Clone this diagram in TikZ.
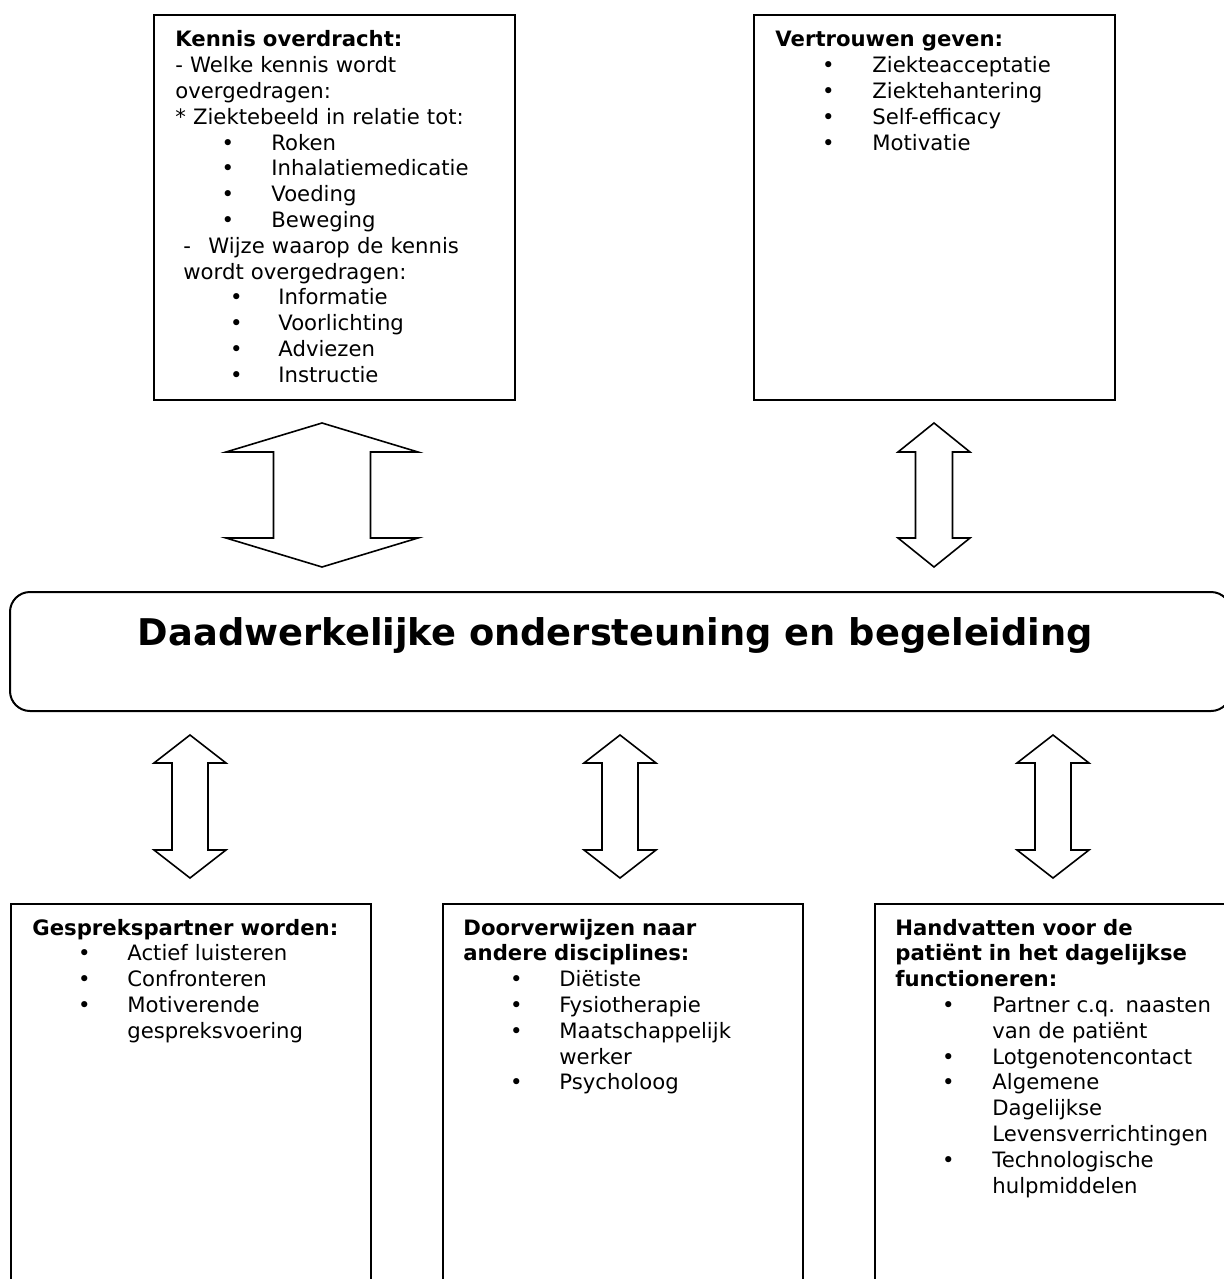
\documentclass[tikz,border=0pt]{standalone}
\usepackage{fontspec}
\setmainfont{DejaVu Sans}
\usetikzlibrary{positioning}

% bullet line: #1 = bullet centre, #2 = text start (both from the left margin)
\newcommand{\opsom}[3]{\hspace*{\dimexpr#1-0.295em\relax}\makebox[\dimexpr#2-#1+0.295em\relax][l]{\textbullet}#3}
% block arrow pointing both ways: centre x, top, bottom, half shaft, half head, head length
\newcommand{\dubbelpijl}[6]{%
  \draw[pijl] (#1,#2) -- ({#1+#5},{#2+#6}) -- ({#1+#4},{#2+#6}) -- ({#1+#4},{#3-#6})
    -- ({#1+#5},{#3-#6}) -- (#1,#3) -- ({#1-#5},{#3-#6}) -- ({#1-#4},{#3-#6})
    -- ({#1-#4},{#2+#6}) -- ({#1-#5},{#2+#6}) -- cycle;%
}

\tikzset{
  kader/.style={draw, line width=1pt, inner sep=0pt, anchor=north west},
  tekst/.style={anchor=base west, inner sep=0pt, text width=190pt, align=left,
    font=\fontsize{10.6}{12.9}\selectfont},
  titel/.style={anchor=base, inner sep=0pt, font=\bfseries\fontsize{18.4}{22}\selectfont},
  pijl/.style={draw, line width=0.8pt, line join=miter},
}

\begin{document}
\begin{tikzpicture}[x=0.5pt, y=-0.5pt]
  \clip (0,0) rectangle (1224,1279);

  % top row
  \node[kader, minimum width=180.5pt, minimum height=192.5pt] (kennis) at (153,14) {};
  \node[kader, minimum width=180.5pt, minimum height=192.5pt] (vertrouwen) at (753,14) {};

  \node[tekst] (kennistekst) at (175,47) {%
    \textbf{Kennis overdracht:}\\
    - Welke kennis wordt\\
    overgedragen:\\
    {}* Ziektebeeld in relatie tot:\\
    \opsom{26.25pt}{48pt}{Roken}\\
    \opsom{26.25pt}{48pt}{Inhalatiemedicatie}\\
    \opsom{26.25pt}{48pt}{Voeding}\\
    \opsom{26.25pt}{48pt}{Beweging}\\
    \hspace*{4pt}\makebox[12.5pt][l]{-}Wijze waarop de kennis\\
    \hspace*{4pt}wordt overgedragen:\\
    \opsom{30.5pt}{51.5pt}{Informatie}\\
    \opsom{30.5pt}{51.5pt}{Voorlichting}\\
    \opsom{30.5pt}{51.5pt}{Adviezen}\\
    \opsom{30.5pt}{51.5pt}{Instructie}};

  \node[tekst] (vertrouwentekst) at (775,47) {%
    \textbf{Vertrouwen geven:}\\
    \opsom{26.5pt}{48.5pt}{Ziekteacceptatie}\\
    \opsom{26.5pt}{48.5pt}{Ziektehantering}\\
    \opsom{26.5pt}{48.5pt}{Self-efficacy}\\
    \opsom{26.5pt}{48.5pt}{Motivatie}};

  % arrows to the middle
  \dubbelpijl{322}{423}{567}{48.5}{96}{29}
  \dubbelpijl{934}{423}{567}{18.5}{36}{29}

  % middle
  \node[kader, rounded corners=10pt, minimum width=610.5pt, minimum height=59.5pt] (kern) at (9,591) {};
  \node[titel] (titel) at (615.5,645) {Daadwerkelijke ondersteuning en begeleiding};

  \foreach \x in {190,620,1053} {\dubbelpijl{\x}{735}{878}{18}{36}{28}}

  % bottom row
  \node[kader, minimum width=180pt, minimum height=200pt] (gesprek) at (10,903) {};
  \node[kader, minimum width=180pt, minimum height=200pt] (doorverwijzen) at (442,903) {};
  \node[kader, minimum width=180pt, minimum height=200pt] (handvatten) at (874,903) {};

  \node[tekst] (gesprektekst) at (32,935) {%
    \textbf{Gesprekspartner worden:}\\
    \opsom{26pt}{47.5pt}{Actief luisteren}\\
    \opsom{26pt}{47.5pt}{Confronteren}\\
    \opsom{26pt}{47.5pt}{Motiverende}\\
    \hspace*{47.5pt}gespreksvoering};

  \node[tekst] (doorverwijzentekst) at (463,935) {%
    \textbf{Doorverwijzen naar}\\
    \textbf{andere disciplines:}\\
    \opsom{26.5pt}{48pt}{Diëtiste}\\
    \opsom{26.5pt}{48pt}{Fysiotherapie}\\
    \opsom{26.5pt}{48pt}{Maatschappelijk}\\
    \hspace*{48pt}werker\\
    \opsom{26.5pt}{48pt}{Psycholoog}};

  \node[tekst] (handvattentekst) at (895,935) {%
    \textbf{Handvatten voor de}\\
    \textbf{patiënt in het dagelijkse}\\
    \textbf{functioneren:}\\
    \opsom{26.5pt}{48.5pt}{Partner c.q. naasten}\\
    \hspace*{48.5pt}van de patiënt\\
    \opsom{26.5pt}{48.5pt}{Lotgenotencontact}\\
    \opsom{26.5pt}{48.5pt}{Algemene}\\
    \hspace*{48.5pt}Dagelijkse\\
    \hspace*{48.5pt}Levensverrichtingen\\
    \opsom{26.5pt}{48.5pt}{Technologische}\\
    \hspace*{48.5pt}hulpmiddelen};
\end{tikzpicture}
\end{document}
